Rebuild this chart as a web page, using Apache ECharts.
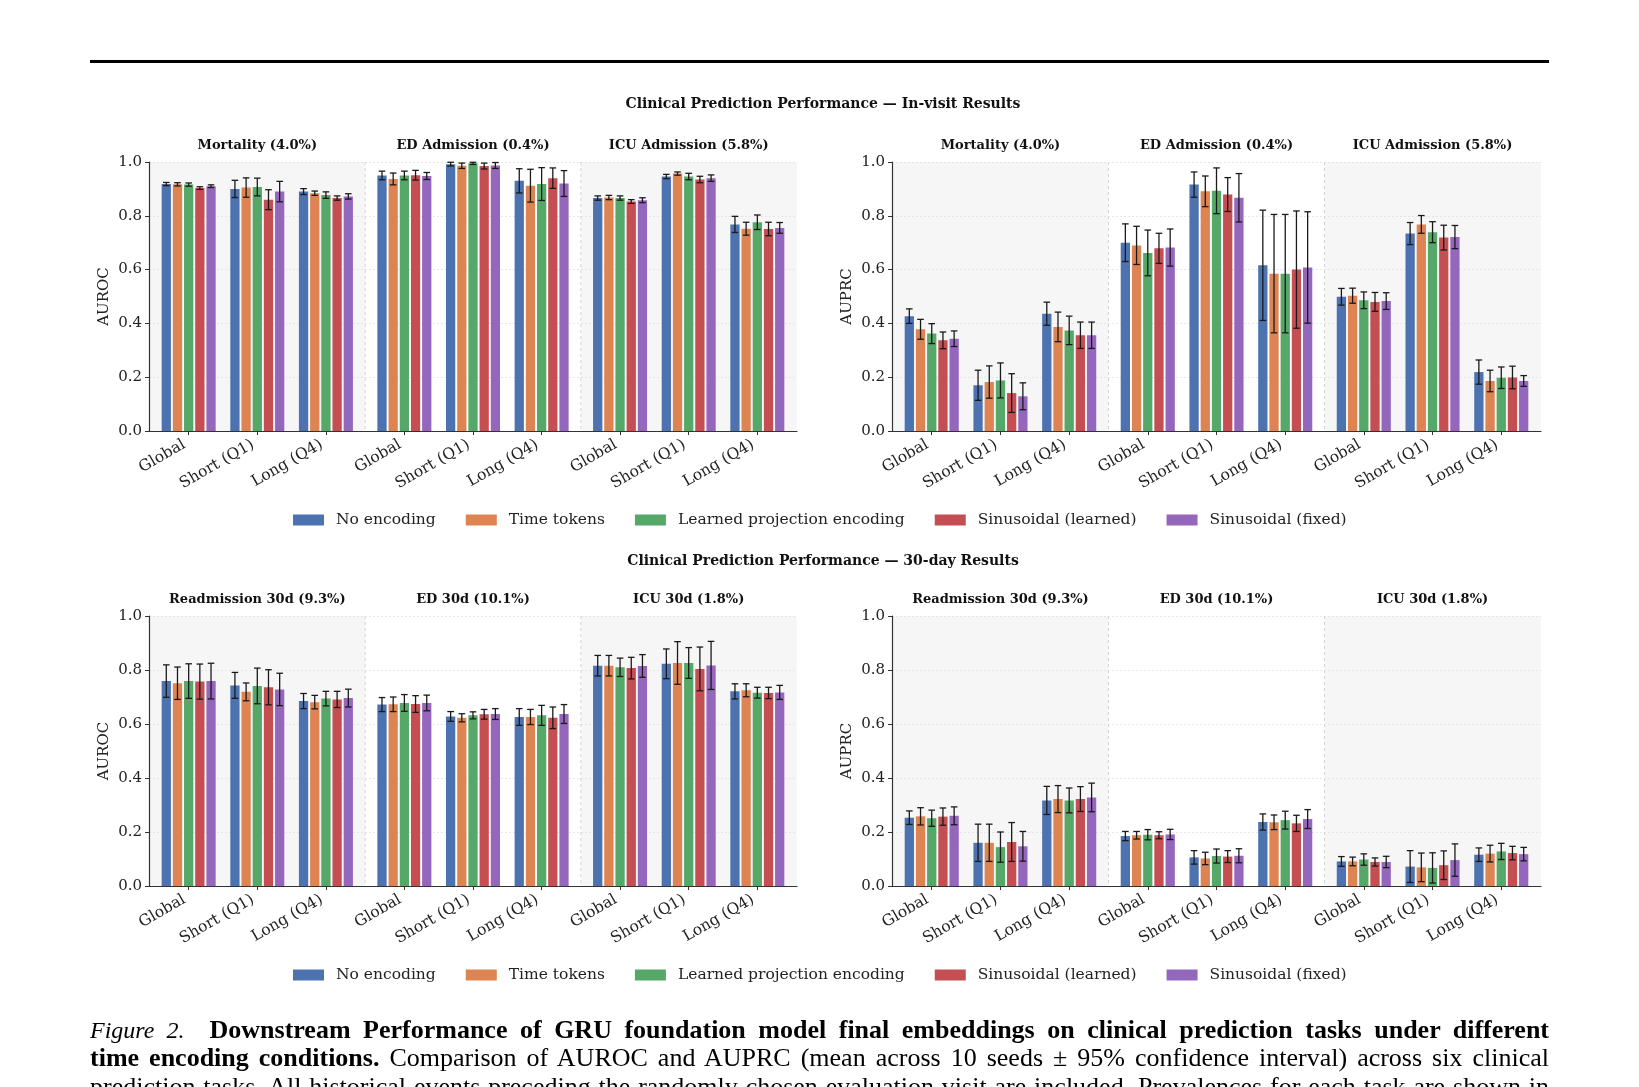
<!DOCTYPE html>
<html>
<head>
<meta charset="utf-8">
<title>Clinical Prediction Performance</title>
<script src="https://cdn.jsdelivr.net/npm/echarts@6/dist/echarts.min.js"></script>
<style>
  html, body { margin: 0; padding: 0; width: 1639px; height: 1087px; overflow: hidden; background: #fff; }
  #chart { position: absolute; left: 0; top: 0; width: 1639px; height: 1087px; }
  #rule { position: absolute; left: 90px; top: 60px; width: 1459px; height: 2.5px; background: #000; }
  #caption { position: absolute; left: 90px; top: 1016px; width: 1459px;
    font-family: 'Liberation Serif', 'Times New Roman', serif; font-size: 26px; line-height: 28.4px; color: #000; }
  #caption div { text-align: justify; text-align-last: justify; height: 28.4px; overflow: hidden; }
  #caption i { font-size: 24px; }
</style>
</head>
<body>
<div id="rule"></div>
<div id="chart"></div>
<div id="caption">
  <div><i>Figure 2.</i>&nbsp; <b>Downstream Performance of GRU foundation model final embeddings on clinical prediction tasks under different</b></div>
  <div><b>time encoding conditions.</b> Comparison of AUROC and AUPRC (mean across 10 seeds ± 95% confidence interval) across six clinical</div>
  <div>prediction tasks. All historical events preceding the randomly chosen evaluation visit are included. Prevalences for each task are shown in</div>
</div>
<script>
// ---- data ----
var encodings = ['No encoding', 'Time tokens', 'Learned projection encoding', 'Sinusoidal (learned)', 'Sinusoidal (fixed)'];
var colors = ['#4C72B0', '#DD8452', '#55A868', '#C44E52', '#9467BD'];
var subsets = ['Global', 'Short (Q1)', 'Long (Q4)'];
var inVisitTasks = ['Mortality (4.0%)', 'ED Admission (0.4%)', 'ICU Admission (5.8%)'];
var thirtyDayTasks = ['Readmission 30d (9.3%)', 'ED 30d (10.1%)', 'ICU 30d (1.8%)'];
var yTicks = [0, 0.2, 0.4, 0.6, 0.8, 1.0];

// rows: task x subset (Global, Short, Long); columns: encodings
var inVisitAuroc = [
  [0.918, 0.917, 0.916, 0.903, 0.910],
  [0.900, 0.905, 0.907, 0.860, 0.890],
  [0.890, 0.884, 0.877, 0.866, 0.872],
  [0.950, 0.937, 0.950, 0.951, 0.948],
  [0.992, 0.986, 0.995, 0.985, 0.987],
  [0.930, 0.912, 0.918, 0.940, 0.920],
  [0.866, 0.868, 0.866, 0.853, 0.858],
  [0.946, 0.957, 0.946, 0.935, 0.940],
  [0.768, 0.752, 0.776, 0.751, 0.755]
];
var inVisitAurocCi = [
  [0.006, 0.006, 0.006, 0.005, 0.005],
  [0.032, 0.036, 0.033, 0.037, 0.038],
  [0.011, 0.008, 0.012, 0.008, 0.010],
  [0.016, 0.022, 0.016, 0.018, 0.013],
  [0.007, 0.010, 0.004, 0.011, 0.011],
  [0.045, 0.061, 0.061, 0.038, 0.048],
  [0.008, 0.008, 0.008, 0.007, 0.009],
  [0.008, 0.006, 0.012, 0.012, 0.012],
  [0.030, 0.024, 0.027, 0.025, 0.020]
];
var inVisitAuprc = [
  [0.427, 0.378, 0.362, 0.337, 0.343],
  [0.170, 0.182, 0.188, 0.141, 0.129],
  [0.436, 0.387, 0.374, 0.356, 0.356],
  [0.700, 0.690, 0.662, 0.679, 0.682],
  [0.916, 0.891, 0.893, 0.879, 0.867],
  [0.616, 0.585, 0.585, 0.600, 0.608],
  [0.499, 0.503, 0.486, 0.480, 0.483],
  [0.734, 0.768, 0.739, 0.719, 0.721],
  [0.219, 0.186, 0.198, 0.199, 0.186]
];
var inVisitAuprcCi = [
  [0.027, 0.037, 0.037, 0.031, 0.029],
  [0.056, 0.060, 0.065, 0.072, 0.050],
  [0.043, 0.055, 0.053, 0.049, 0.049],
  [0.070, 0.071, 0.085, 0.056, 0.069],
  [0.047, 0.057, 0.085, 0.063, 0.090],
  [0.205, 0.220, 0.220, 0.218, 0.207],
  [0.031, 0.028, 0.031, 0.035, 0.031],
  [0.041, 0.033, 0.039, 0.046, 0.043],
  [0.045, 0.040, 0.040, 0.042, 0.020]
];
var thirtyDayAuroc = [
  [0.759, 0.751, 0.759, 0.757, 0.759],
  [0.743, 0.719, 0.741, 0.736, 0.728],
  [0.685, 0.681, 0.694, 0.691, 0.696],
  [0.672, 0.673, 0.678, 0.674, 0.678],
  [0.628, 0.623, 0.632, 0.636, 0.637],
  [0.626, 0.626, 0.632, 0.623, 0.637],
  [0.816, 0.816, 0.810, 0.807, 0.815],
  [0.823, 0.826, 0.826, 0.804, 0.817],
  [0.721, 0.725, 0.716, 0.715, 0.717]
];
var thirtyDayAurocCi = [
  [0.060, 0.060, 0.064, 0.065, 0.066],
  [0.048, 0.033, 0.066, 0.065, 0.060],
  [0.028, 0.025, 0.027, 0.030, 0.033],
  [0.026, 0.027, 0.031, 0.031, 0.029],
  [0.018, 0.015, 0.013, 0.018, 0.020],
  [0.031, 0.028, 0.037, 0.040, 0.035],
  [0.038, 0.038, 0.034, 0.040, 0.042],
  [0.055, 0.079, 0.057, 0.081, 0.089],
  [0.028, 0.024, 0.020, 0.021, 0.026]
];
var thirtyDayAuprc = [
  [0.253, 0.258, 0.251, 0.257, 0.260],
  [0.160, 0.160, 0.144, 0.163, 0.147],
  [0.317, 0.322, 0.317, 0.322, 0.328],
  [0.185, 0.188, 0.190, 0.188, 0.191],
  [0.106, 0.102, 0.111, 0.109, 0.112],
  [0.237, 0.236, 0.244, 0.232, 0.248],
  [0.091, 0.091, 0.098, 0.089, 0.089],
  [0.072, 0.069, 0.067, 0.077, 0.096],
  [0.116, 0.120, 0.128, 0.122, 0.118]
];
var thirtyDayAuprcCi = [
  [0.025, 0.032, 0.030, 0.032, 0.033],
  [0.069, 0.069, 0.056, 0.072, 0.055],
  [0.052, 0.050, 0.046, 0.046, 0.053],
  [0.017, 0.014, 0.019, 0.013, 0.019],
  [0.025, 0.023, 0.026, 0.022, 0.026],
  [0.030, 0.027, 0.033, 0.030, 0.035],
  [0.018, 0.016, 0.021, 0.015, 0.021],
  [0.059, 0.053, 0.056, 0.053, 0.060],
  [0.025, 0.031, 0.030, 0.025, 0.025]
];

// ---- layout ----
var FONT = "'DejaVu Serif', serif";
var taskStep = 3.143, pitch = 0.163, barHalf = 0.0675, cap = 3.3, pad = 0.578;
var positions = [];
for (var t = 0; t < 3; t++) for (var s = 0; s < 3; s++) positions.push(t * taskStep + s);
var xMin = positions[0] - pad, xMax = positions[8] + pad;
var sep1 = (positions[2] + positions[3]) / 2, sep2 = (positions[5] + positions[6]) / 2;
var regions = [[xMin, sep1, positions[1]], [sep1, sep2, positions[4]], [sep2, xMax, positions[7]]];

var panels = [
  { grid: { left: 149, top: 162, width: 648, height: 269 }, name: 'AUROC', tasks: inVisitTasks, values: inVisitAuroc, ci: inVisitAurocCi },
  { grid: { left: 892, top: 162, width: 649, height: 269 }, name: 'AUPRC', tasks: inVisitTasks, values: inVisitAuprc, ci: inVisitAuprcCi },
  { grid: { left: 149, top: 616, width: 648, height: 270 }, name: 'AUROC', tasks: thirtyDayTasks, values: thirtyDayAuroc, ci: thirtyDayAurocCi },
  { grid: { left: 892, top: 616, width: 649, height: 270 }, name: 'AUPRC', tasks: thirtyDayTasks, values: thirtyDayAuprc, ci: thirtyDayAuprcCi }
];

function subsetLabel(v) {
  for (var i = 0; i < positions.length; i++) {
    if (Math.abs(positions[i] - v) < 1e-3) return subsets[i % 3];
  }
  return '';
}

function bgRenderer(taskNames) {
  return function (params, api) {
    var i = params.dataIndex, cs = params.coordSys;
    var x0 = api.coord([api.value(0), 0])[0];
    var x1 = api.coord([api.value(1), 0])[0];
    var xc = api.coord([api.value(2), 1])[0];
    var children = [];
    if (i !== 1) {
      children.push({ type: 'rect', shape: { x: x0, y: cs.y, width: x1 - x0, height: cs.height },
        style: { fill: 'rgba(0,0,0,0.035)' } });
    }
    if (i > 0) {
      children.push({ type: 'line', shape: { x1: x0, y1: cs.y, x2: x0, y2: cs.y + cs.height },
        style: { stroke: '#c8c8c8', lineWidth: 0.8, lineDash: [3, 3] } });
    }
    children.push({ type: 'text', x: xc, y: cs.y - 16,
      style: { text: taskNames[i], font: 'bold 13px ' + FONT, fill: '#111', align: 'center', verticalAlign: 'middle' } });
    return { type: 'group', children: children };
  };
}

function barRenderer(params, api) {
  var x = api.value(0), y = api.value(1), e = api.value(2);
  var a = api.coord([x - barHalf, y]);
  var b = api.coord([x + barHalf, 0]);
  var lo = api.coord([x, y - e]);
  var hi = api.coord([x, y + e]);
  var es = { stroke: '#1a1a1a', lineWidth: 1.3 };
  return { type: 'group', children: [
    { type: 'rect', shape: { x: a[0], y: a[1], width: b[0] - a[0], height: b[1] - a[1] }, style: { fill: api.visual('color') } },
    { type: 'line', shape: { x1: lo[0], y1: lo[1], x2: hi[0], y2: hi[1] }, style: es },
    { type: 'line', shape: { x1: lo[0] - cap, y1: lo[1], x2: lo[0] + cap, y2: lo[1] }, style: es },
    { type: 'line', shape: { x1: hi[0] - cap, y1: hi[1], x2: hi[0] + cap, y2: hi[1] }, style: es }
  ] };
}

var grids = [], xAxes = [], yAxes = [], series = [];
panels.forEach(function (p, pi) {
  grids.push(p.grid);
  xAxes.push({
    type: 'value', gridIndex: pi, min: xMin, max: xMax,
    splitLine: { show: false },
    axisLine: { show: true, onZero: false, lineStyle: { color: '#333', width: 1.2 } },
    axisTick: { show: true, length: 4, customValues: positions, lineStyle: { color: '#333', width: 1 } },
    axisLabel: { customValues: positions, rotate: 30, margin: 10, padding: [0, 5, 0, 0], formatter: subsetLabel,
      fontFamily: FONT, fontSize: 15.5, color: '#222' }
  });
  yAxes.push({
    type: 'value', gridIndex: pi, min: 0, max: 1, interval: 0.2,
    name: p.name, nameLocation: 'middle', nameGap: 37,
    nameTextStyle: { fontFamily: FONT, fontSize: 15, color: '#222' },
    axisLine: { show: true, onZero: false, lineStyle: { color: '#333', width: 1.2 } },
    axisTick: { show: true, length: 4, lineStyle: { color: '#333', width: 1 } },
    axisLabel: { margin: 7, fontFamily: FONT, fontSize: 15, color: '#222',
      formatter: function (v) { return yTicks.indexOf(Math.round(v * 10) / 10) >= 0 ? v.toFixed(1) : ''; } },
    splitLine: { show: true, lineStyle: { color: '#e0e0e0', width: 0.8, type: [2, 2] } }
  });
  series.push({
    type: 'custom', name: 'bg', xAxisIndex: pi, yAxisIndex: pi, z: -1, silent: true,
    encode: { x: [0, 1], y: 2 },
    data: regions,
    renderItem: bgRenderer(p.tasks)
  });
  encodings.forEach(function (enc, k) {
    series.push({
      type: 'custom', name: enc, xAxisIndex: pi, yAxisIndex: pi, z: 2,
      itemStyle: { color: colors[k] },
      encode: { x: 0, y: 1 },
      data: positions.map(function (pos, g) { return [pos + (k - 2) * pitch, p.values[g][k], p.ci[g][k]]; }),
      renderItem: barRenderer
    });
  });
});

function legendAt(top) {
  return {
    data: encodings, left: 288, top: top, icon: 'rect', itemWidth: 31, itemHeight: 11, itemGap: 30,
    selectedMode: false,
    textStyle: { fontFamily: FONT, fontSize: 15.5, color: '#222', padding: [0, 0, 0, 7] }
  };
}

var chart = echarts.init(document.getElementById('chart'));
chart.setOption({
  animation: false,
  backgroundColor: 'transparent',
  graphic: [
    { type: 'text', x: 823, y: 104, style: { text: 'Clinical Prediction Performance — In-visit Results',
      font: 'bold 14px ' + FONT, fill: '#111', align: 'center', verticalAlign: 'middle' } },
    { type: 'text', x: 823, y: 561, style: { text: 'Clinical Prediction Performance — 30-day Results',
      font: 'bold 14px ' + FONT, fill: '#111', align: 'center', verticalAlign: 'middle' } }
  ],
  legend: [legendAt(507), legendAt(962)],
  grid: grids,
  xAxis: xAxes,
  yAxis: yAxes,
  series: series
});
</script>
</body>
</html>
